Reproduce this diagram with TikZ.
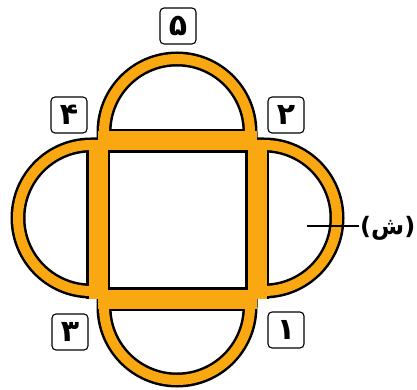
\documentclass[tikz,border=0pt]{standalone}
\usepackage{fontspec}
\newfontfamily\arabicfont[Script=Arabic]{DejaVu Sans}
\definecolor{bandorange}{RGB}{250,168,18}
\newcommand\drawbands[3]{%
  % square sides (butt ends so the corners stay inside the arcs)
  \draw[#1, line width=#2pt] (98,141) -- (257,141);
  \draw[#1, line width=#2pt] (98,299) -- (257,299);
  \draw[#1, line width=#2pt] (98,141) -- (98,299);
  \draw[#1, line width=#2pt] (257,141) -- (257,299);
  % top semicircle
  \draw[#1, line width=#3pt] (104,141) -- (104,132) arc[start angle=180, end angle=360, radius=73] -- (250,141);
  % bottom semicircle
  \draw[#1, line width=#3pt] (104,299) -- (104,307) arc[start angle=180, end angle=0, radius=73] -- (250,299);
  % left semicircle
  \draw[#1, line width=#3pt] (100,145) -- (91,145) arc[start angle=270, end angle=90, radius=73] -- (100,291);
  % right semicircle
  \draw[#1, line width=#3pt] (255,145) -- (264,145) arc[start angle=270, end angle=450, radius=73] -- (255,291);
}
\begin{document}
\begin{tikzpicture}[x=1pt,y=-1pt,
  numbox/.style={draw=black, line width=1.1pt, rounded corners=4pt, minimum width=36pt, minimum height=36pt, inner sep=0pt, font=\arabicfont\bfseries\fontsize{30}{34}\selectfont},
  pointer/.style={draw=black, line width=1.6pt}]
\useasboundingbox (0,0) rectangle (417,390);
\fill[white] (0,0) rectangle (417,390);
\drawbands{black}{24}{15}
\drawbands{bandorange}{19}{10}
\node[numbox] (n5) at (178,26) {۵};
\node[numbox] (n4) at (69,115) {۴};
\node[numbox] (n2) at (286,115) {۲};
\node[numbox] (n3) at (70,332) {۳};
\node[numbox] (n1) at (286,330) {۱};
\coordinate (shstart) at (307,226);
\node[font=\arabicfont\bfseries\fontsize{24}{28}\selectfont, inner sep=1pt, anchor=west] (sh) at (359,228) {(ش)};
\draw[pointer] (shstart) -- (sh.west |- shstart);
\end{tikzpicture}
\end{document}
